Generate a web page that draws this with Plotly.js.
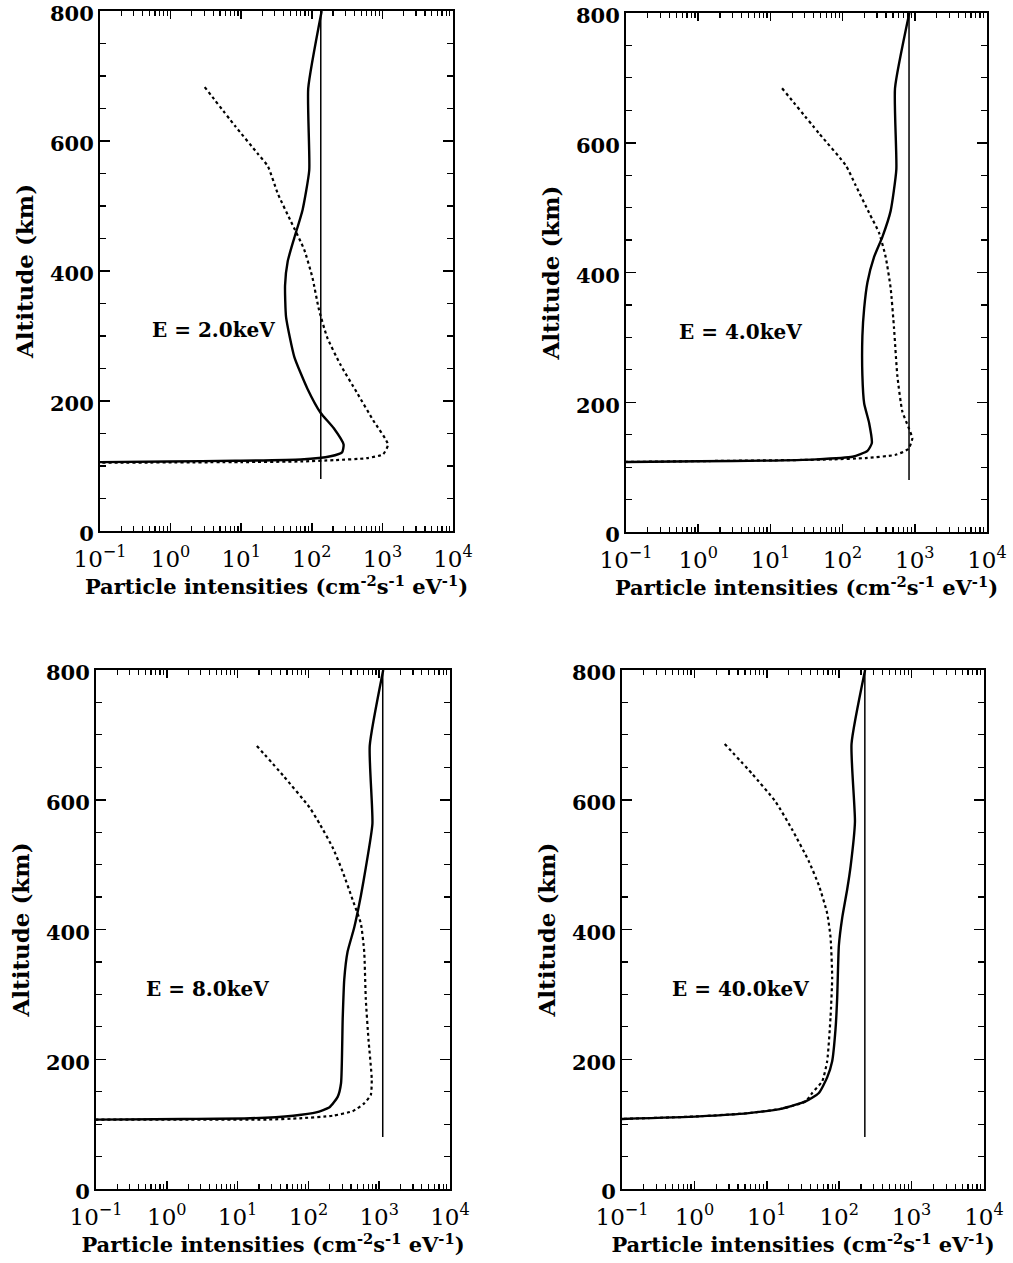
<!DOCTYPE html>
<html>
<head>
<meta charset="utf-8">
<script src="https://cdn.plot.ly/plotly-3.0.1.min.js"></script>
<style>
  html, body { margin: 0; padding: 0; background: #fff; }
  #chart { width: 1013px; height: 1263px; }
</style>
</head>
<body>
<div id="chart"></div>
<script>
// Particle intensity profiles versus altitude for four electron energies.
// Intensities in cm^-2 s^-1 eV^-1, altitudes in km.

const energyLabels = ["E = 2.0keV", "E = 4.0keV", "E = 8.0keV", "E = 40.0keV"];

// Vertical reference line: constant intensity, drawn from 80 km to 800 km
const refIntensity = [134, 832, 1122, 226];
const refAltitude = [80, 800];

// E = 2.0 keV
const solidAlt1 = [800, 681, 555, 494, 451, 415, 378, 329, 268, 219, 182, 158, 133, 121, 115, 110, 108, 107, 106];
const solidVal1 = [138, 89, 92, 74, 56.5, 45.6, 41.8, 43.2, 56.5, 86.7, 133, 205, 282, 268, 184, 70, 8.2, 0.95, 0.1];
const dotAlt1 = [683, 623, 580, 561, 519, 476, 433, 390, 341, 298, 256, 213, 170, 133, 118, 112, 109, 107, 106, 105];
const dotVal1 = [3.04, 8.2, 17.3, 23.9, 33.0, 50.7, 78, 102, 126, 165, 254, 435, 743, 1200, 1020, 600, 205, 70, 10, 0.1];

// E = 4.0 keV
const solidAlt2 = [800, 684, 559, 495, 455, 424, 385, 345, 302, 241, 198, 168, 137, 125, 116, 112, 110, 109, 108];
const solidVal2 = [840, 532, 555, 463, 356, 273, 221, 199, 188, 188, 199, 233, 254, 221, 137, 42.8, 8.7, 1.05, 0.1];
const dotAlt2 = [684, 614, 565, 534, 492, 461, 424, 376, 315, 241, 186, 162, 144, 128, 119, 114, 112, 111, 108];
const dotVal2 = [14.5, 47.5, 111, 152, 233, 320, 395, 463, 515, 573, 671, 813, 923, 813, 543, 209, 72.6, 25.1, 0.1];

// E = 8.0 keV
const solidAlt3 = [800, 683, 563, 495, 452, 403, 366, 323, 262, 163, 142, 126, 118, 113, 109, 108, 107];
const solidVal3 = [1140, 735, 802, 646, 551, 444, 358, 321, 305, 289, 259, 199, 129, 61, 15.1, 1.76, 0.1];
const dotAlt3 = [683, 637, 588, 563, 526, 489, 446, 409, 366, 292, 231, 169, 145, 132, 120, 113, 109, 107, 107];
const dotVal3 = [18.7, 44.2, 104, 144, 221, 305, 421, 551, 614, 647, 705, 785, 760, 614, 421, 221, 75.5, 25.8, 0.1];

// E = 40.0 keV
const solidAlt4 = [800, 686, 566, 498, 462, 418, 375, 295, 246, 197, 172, 148, 135, 124, 117, 112, 108];
const solidVal4 = [228, 148, 165, 144, 129, 110, 98.9, 93.8, 88.9, 80, 68.2, 52.4, 34.3, 16.3, 5.64, 1.15, 0.1];
const dotAlt4 = [686, 640, 597, 554, 505, 468, 425, 388, 326, 265, 197, 166, 148, 135, 124, 117, 112, 108];
const dotVal4 = [2.62, 6.27, 13.2, 22.4, 38.1, 52.4, 68.2, 75.9, 80, 75.9, 68.2, 58.2, 42.4, 34.3, 16.3, 5.64, 1.15, 0.1];

// Axis ticks
const xTickVals = [0.1, 1, 10, 100, 1000, 10000];
const xTickText = ["10<sup>\u22121</sup>", "10<sup>0</sup>", "10<sup>1</sup>", "10<sup>2</sup>", "10<sup>3</sup>", "10<sup>4</sup>"];
const yTickVals = [0, 200, 400, 600, 800];

const panels = [
  { sAlt: solidAlt1, sVal: solidVal1, dAlt: dotAlt1, dVal: dotVal1 },
  { sAlt: solidAlt2, sVal: solidVal2, dAlt: dotAlt2, dVal: dotVal2 },
  { sAlt: solidAlt3, sVal: solidVal3, dAlt: dotAlt3, dVal: dotVal3 },
  { sAlt: solidAlt4, sVal: solidVal4, dAlt: dotAlt4, dVal: dotVal4 }
];

const FONT = "DejaVu Serif, Liberation Serif, serif";
const traces = [];
panels.forEach((p, i) => {
  const xa = i === 0 ? "x" : "x" + (i + 1);
  const ya = i === 0 ? "y" : "y" + (i + 1);
  traces.push({
    x: [refIntensity[i], refIntensity[i]], y: refAltitude,
    xaxis: xa, yaxis: ya, mode: "lines", type: "scatter",
    line: { color: "#000", width: 1.5 }, hoverinfo: "skip"
  });
  traces.push({
    x: p.dVal, y: p.dAlt, xaxis: xa, yaxis: ya, mode: "lines", type: "scatter",
    line: { color: "#000", width: 2.2, dash: "dot", shape: "spline", smoothing: 0.5 }, hoverinfo: "skip"
  });
  traces.push({
    x: p.sVal, y: p.sAlt, xaxis: xa, yaxis: ya, mode: "lines", type: "scatter",
    line: { color: "#000", width: 2.4, shape: "spline", smoothing: 0.5 }, hoverinfo: "skip"
  });
});

function xAxis(domain, anchor) {
  return {
    type: "log", range: [-1, 4], domain: domain, anchor: anchor,
    tickmode: "array", tickvals: xTickVals, ticktext: xTickText,
    ticks: "inside", ticklen: 8, tickwidth: 1.5, tickcolor: "#000",
    minor: { ticks: "inside", ticklen: 5, tickwidth: 1.2, tickcolor: "#000", dtick: "D1", showgrid: false },
    showline: true, linecolor: "#000", linewidth: 2, mirror: "allticks",
    showgrid: false, zeroline: false, automargin: false,
    ticklabelstandoff: 6, ticklabeloverflow: "allow",
    tickfont: { family: FONT, size: 23, color: "#000" },
    title: {
      text: "<b>Particle intensities (cm<sup>-2</sup>s<sup>-1</sup> eV<sup>-1</sup>)</b>",
      font: { family: FONT, size: 21, color: "#000" }, standoff: 6
    }
  };
}
function yAxis(domain, anchor) {
  return {
    range: [0, 800], domain: domain, anchor: anchor,
    tickmode: "array", tickvals: yTickVals,
    ticks: "inside", ticklen: 10, tickwidth: 1.5, tickcolor: "#000",
    minor: { ticks: "inside", ticklen: 6, tickwidth: 1.2, tickcolor: "#000", dtick: 50, showgrid: false },
    showline: true, linecolor: "#000", linewidth: 2, mirror: "allticks",
    showgrid: false, zeroline: false, automargin: false,
    ticklabelshift: 3, ticklabeloverflow: "allow",
    tickfont: { family: FONT, size: 21, color: "#000", weight: "bold" },
    title: {
      text: "<b>Altitude (km)</b>",
      font: { family: FONT, size: 23, color: "#000" }, standoff: 10
    }
  };
}

const W = 1013, H = 1263;
const xd = [[100 / W, 453 / W], [626 / W, 987 / W], [96 / W, 450 / W], [622 / W, 984 / W]];
const yd = [[1 - 531 / H, 1 - 11 / H], [1 - 532 / H, 1 - 13 / H], [1 - 1189 / H, 1 - 670 / H], [1 - 1189 / H, 1 - 670 / H]];

const layout = {
  width: W, height: H,
  margin: { l: 0, r: 0, t: 0, b: 0 },
  paper_bgcolor: "#fff", plot_bgcolor: "#fff",
  showlegend: false,
  annotations: energyLabels.map((t, i) => ({
    text: "<b>" + t + "</b>",
    xref: i === 0 ? "x" : "x" + (i + 1), yref: i === 0 ? "y" : "y" + (i + 1),
    x: [0.61, 0.58, 0.58, 0.64][i], y: 309,
    showarrow: false, font: { family: FONT, size: 20, color: "#000" }
  }))
};
for (let i = 0; i < 4; i++) {
  const sfx = i === 0 ? "" : String(i + 1);
  layout["xaxis" + sfx] = xAxis(xd[i], "y" + sfx);
  layout["yaxis" + sfx] = yAxis(yd[i], "x" + sfx);
}

Plotly.newPlot("chart", traces, layout, { staticPlot: true, displayModeBar: false });
</script>
</body>
</html>
